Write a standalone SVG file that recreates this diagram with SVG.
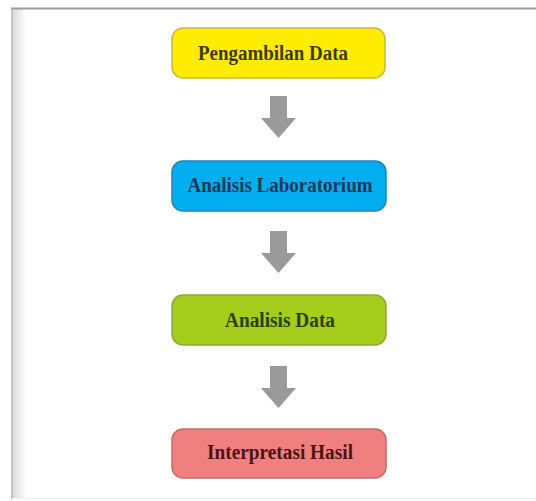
<svg xmlns="http://www.w3.org/2000/svg" width="536" height="501" viewBox="0 0 536 501">
<defs>
<linearGradient id="lshade" x1="0" y1="0" x2="1" y2="0">
<stop offset="0" stop-color="#d8d8d8"/>
<stop offset="1" stop-color="#ffffff"/>
</linearGradient>
<path id="arrow" d="M-8.5,0 H8.5 V22 H17.5 L0,42 L-17.5,22 H-8.5 Z"/>
</defs>
<style>
.box{stroke-width:1.5}
.lbl{font-family:"Liberation Serif","Times New Roman",serif;font-weight:bold;font-size:20px;text-anchor:middle}
.arr{fill:#9a9a9a}
</style>
<rect width="536" height="501" fill="#ffffff"/>
<rect x="12" y="9" width="14" height="490" fill="url(#lshade)"/>
<line x1="11" y1="8.5" x2="536" y2="8.5" stroke="#9c9c9c" stroke-width="2"/>
<line x1="12" y1="9" x2="12" y2="499" stroke="#c4c4c4" stroke-width="2"/>
<line x1="12" y1="498.5" x2="536" y2="498.5" stroke="#f0f0f0" stroke-width="1"/>
<g id="connectors">
<use href="#arrow" class="arr" x="278.5" y="96"/>
<use href="#arrow" class="arr" x="278.5" y="231"/>
<use href="#arrow" class="arr" x="278.5" y="366"/>
</g>
<g id="pengambilan">
<rect class="box" x="172" y="28" width="213" height="50" rx="11" fill="#ffec00" stroke="#c9b83a"/>
<text class="lbl" x="273" y="60" fill="#3f3a00" textLength="150" lengthAdjust="spacingAndGlyphs">Pengambilan Data</text>
</g>
<g id="laboratorium">
<rect class="box" x="172" y="161" width="214" height="50" rx="11" fill="#00aeef" stroke="#1a86b8"/>
<text class="lbl" x="280" y="192" fill="#163a55" textLength="185" lengthAdjust="spacingAndGlyphs">Analisis Laboratorium</text>
</g>
<g id="analisis">
<rect class="box" x="172" y="295" width="214" height="50" rx="11" fill="#a6cc1c" stroke="#8aa83a"/>
<text class="lbl" x="280" y="327" fill="#2c4010" textLength="110" lengthAdjust="spacingAndGlyphs">Analisis Data</text>
</g>
<g id="interpretasi">
<rect class="box" x="172" y="429" width="214" height="49" rx="11" fill="#f08080" stroke="#c46a6a"/>
<text class="lbl" x="280" y="459" fill="#4a1414" textLength="146" lengthAdjust="spacingAndGlyphs">Interpretasi Hasil</text>
</g>
</svg>
